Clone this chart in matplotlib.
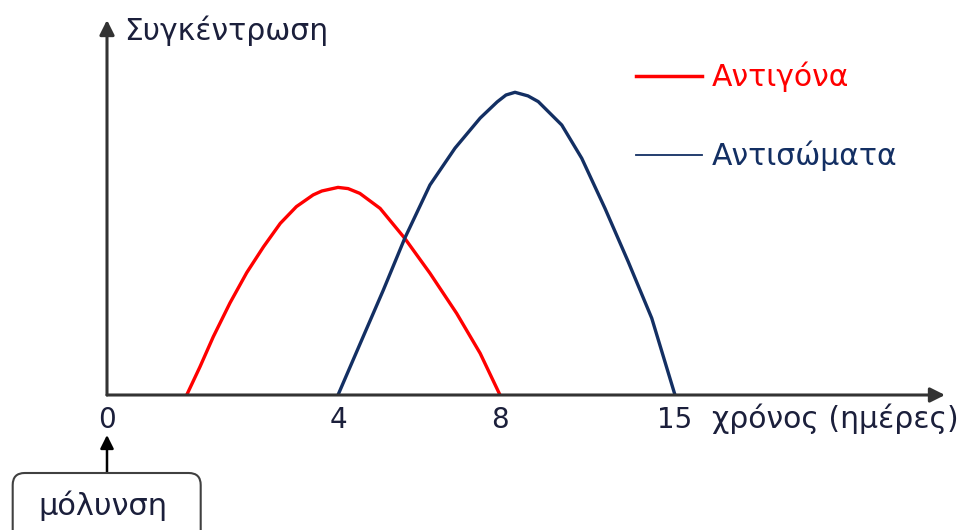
"""
Antigen / antibody concentration after infection.
"""

import numpy as np
import matplotlib.pyplot as plt
from matplotlib.patches import FancyBboxPatch

# time (days) and concentration (arbitrary units)
antigen_days = [1.38, 1.61, 1.84, 2.13, 2.42, 2.71, 3.00, 3.28, 3.57, 3.72, 4.0,
                4.25, 4.54, 5.04, 5.65, 6.27, 6.93, 7.51, 8.0]
antigen_conc = [0, 0.94, 1.94, 3.07, 4.08, 4.94, 5.72, 6.28, 6.67, 6.80, 6.92,
                6.88, 6.72, 6.22, 5.22, 4.06, 2.72, 1.39, 0]

antibody_days = [4.0, 4.62, 5.12, 5.65, 6.27, 6.89, 7.51, 7.93, 8.24, 8.6, 9.12,
                 9.53, 10.47, 11.27, 12.2, 13.13, 14.07, 15.0]
antibody_conc = [0, 1.94, 3.5, 5.23, 7.0, 8.23, 9.23, 9.77, 10.0, 10.09, 9.97,
                 9.78, 9.0, 7.89, 6.22, 4.44, 2.56, 0]

tick_days = [0, 4, 8, 15]
tick_labels = ['0', '4', '8', '15']

# the time axis of the sketch is not linear: piecewise spacing between ticks
day_knots = [0, 4, 8, 15, 30]
pos_knots = [0, 231, 393, 568, 943]


def forward(d):
    return np.interp(d, day_knots, pos_knots)


def inverse(p):
    return np.interp(p, pos_knots, day_knots)


plt.rcParams['font.family'] = ['DejaVu Sans']
text_color = '#1b1f3b'
red = '#ff0000'
navy = '#132f63'
fs = 21.5

fig = plt.figure(figsize=(9.68, 5.3), dpi=100)
ax = fig.add_axes([107 / 968, 135 / 530, 838 / 968, 375 / 530])

ax.plot(antigen_days, antigen_conc, color=red, linewidth=2.4,
        solid_joinstyle='round', label='Αντιγόνα')
ax.plot(antibody_days, antibody_conc, color=navy, linewidth=2.4,
        solid_joinstyle='round', label='Αντισώματα')

ax.set_xscale('function', functions=(forward, inverse))
ax.set_xlim(0, 25.8)
ax.set_ylim(0, 12.5)

for s in ax.spines.values():
    s.set_visible(False)
ax.set_yticks([])
ax.set_xticks(tick_days, tick_labels)
ax.xaxis.set_minor_locator(plt.NullLocator())
ax.tick_params(axis='x', length=0, pad=8, labelsize=20, labelcolor=text_color)

# axes drawn as arrows
arrow = dict(arrowstyle='-|>', mutation_scale=22, lw=2.2, color='#333333',
             shrinkA=0, shrinkB=0)
ax.annotate('', xy=(1, 0), xytext=(0, 0), xycoords='axes fraction', arrowprops=arrow)
ax.annotate('', xy=(0, 1), xytext=(0, 0), xycoords='axes fraction', arrowprops=arrow)

fig.text(1.24, 4.99, 'Συγκέντρωση', transform=fig.dpi_scale_trans,
         fontsize=fs, color=text_color, va='center', ha='left')
fig.text(7.12, 1.11, 'χρόνος (ημέρες)', transform=fig.dpi_scale_trans,
         fontsize=fs, color=text_color, va='center', ha='left')

# legend
leg = ax.legend(loc='upper left', bbox_to_anchor=(6.36, 4.68),
                bbox_transform=fig.dpi_scale_trans, frameon=False,
                fontsize=fs, labelcolor='linecolor', handlelength=2.2,
                handletextpad=0.33, labelspacing=1.62, borderpad=0, borderaxespad=0)
leg.legend_handles[0].set_linewidth(2.5)
leg.legend_handles[1].set_linewidth(1.3)

# "infection" box with arrow pointing at day 0
box = FancyBboxPatch((0.127, -0.3), 1.88, 0.87, transform=fig.dpi_scale_trans,
                     boxstyle='round,pad=0,rounding_size=0.12',
                     facecolor='white', edgecolor='#404040', lw=1.5, clip_on=False)
fig.patches.append(box)
fig.text(1.03, 0.24, 'μόλυνση', transform=fig.dpi_scale_trans,
         fontsize=22, color=text_color, va='center', ha='center')
ax.annotate('', xy=(1.07, 0.95), xytext=(1.07, 0.57), xycoords=fig.dpi_scale_trans,
            arrowprops=dict(arrowstyle='-|>', mutation_scale=20, lw=1.8,
                            color='black', shrinkA=0, shrinkB=0))

fig.savefig('out.png', dpi=100)
